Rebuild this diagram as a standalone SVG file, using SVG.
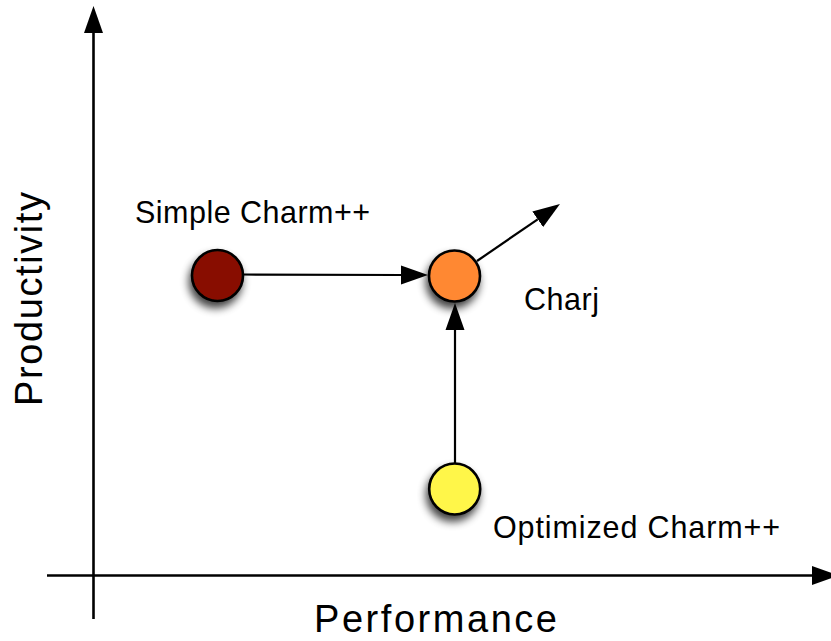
<svg xmlns="http://www.w3.org/2000/svg" width="831" height="641" viewBox="0 0 831 641">
<style>
  .lbl { font-family: "Liberation Sans", Arial, Helvetica, sans-serif; fill: #000; }
  .small { font-size: 30.5px; }
  .big { font-size: 38px; }
  .ax { stroke: #000; stroke-width: 2.6; fill: none; }
  .con { stroke: #000; stroke-width: 2.2; fill: none; }
  .node { stroke: #000; stroke-width: 2.6; filter: url(#shadow); }
</style>
<defs>
  <marker id="head" viewBox="0 -10 28 20" refX="0" refY="0" markerWidth="28" markerHeight="20" markerUnits="userSpaceOnUse" orient="auto">
    <path d="M0,-9.5 L27,0 L0,9.5 Z" fill="#000"/>
  </marker>
  <filter id="shadow" x="-50%" y="-50%" width="200%" height="200%">
    <feGaussianBlur in="SourceAlpha" stdDeviation="4.5"/>
    <feOffset dx="-2" dy="6" result="b"/>
    <feComponentTransfer in="b" result="s"><feFuncA type="linear" slope="0.75"/></feComponentTransfer>
    <feMerge><feMergeNode in="s"/><feMergeNode in="SourceGraphic"/></feMerge>
  </filter>
</defs>
<rect width="831" height="641" fill="#fff"/>
<g id="axes">
  <path class="ax" d="M93.5,619 L93.5,33" marker-end="url(#head)"/>
  <path class="ax" d="M47,575.5 L812,575.5" marker-end="url(#head)"/>
  <text class="lbl big" x="314" y="632" textLength="243">Performance</text>
  <text class="lbl big" transform="translate(42,406) rotate(-90)" x="0" y="0" textLength="214">Productivity</text>
</g>
<g id="connectors">
  <path class="con" d="M243,274.5 L401,275" marker-end="url(#head)"/>
  <path class="con" d="M455,463 L455,330" marker-end="url(#head)"/>
  <path class="con" d="M477,261 L537.7,219.3" marker-end="url(#head)"/>
</g>
<g id="simple">
  <circle class="node" cx="217.5" cy="275.5" r="25.5" fill="#881100"/>
  <text class="lbl small" x="135" y="223" textLength="235">Simple Charm++</text>
</g>
<g id="charj">
  <circle class="node" cx="454.5" cy="276" r="25.5" fill="#FF8833"/>
  <text class="lbl small" x="524" y="310" textLength="75">Charj</text>
</g>
<g id="optimized">
  <circle class="node" cx="454.7" cy="489" r="25.5" fill="#FFF64A"/>
  <text class="lbl small" x="493" y="538" textLength="287">Optimized Charm++</text>
</g>
</svg>
